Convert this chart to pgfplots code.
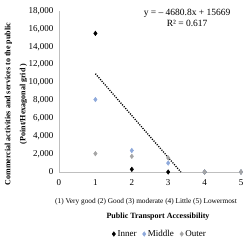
\documentclass[border=0pt]{standalone}
\usepackage{pgfplots}
\pgfplotsset{compat=1.18}
\usepackage{fontspec}
\setmainfont{Liberation Serif}
\definecolor{midblue}{HTML}{8EA9DB}
\definecolor{outgray}{HTML}{A5A5A5}
\definecolor{axgray}{HTML}{BFBFBF}
\begin{document}
\begin{tikzpicture}
\useasboundingbox (-59pt,-68pt) rectangle (189pt,172pt);
\begin{axis}[
  scale only axis, width=182pt, height=161pt,
  xmin=0, xmax=5, ymin=0, ymax=18000,
  xtick={0,1,2,3,4,5}, ytick distance=2000,
  axis x line*=bottom, axis y line*=left,
  axis line style={axgray, line width=0.8pt, -},
  major tick length=0pt,
  tick label style={font=\fontsize{9}{10}\selectfont, text=black},
  xticklabel={\pgfmathprintnumber[assume math mode=true]{\tick}},
  yticklabel={\pgfmathprintnumber[assume math mode=true, 1000 sep={,}]{\tick}},
  scaled y ticks=false,
  xticklabel style={yshift=-4pt},
  yticklabel style={xshift=-2pt},
  clip=false,
  legend columns=3,
  legend style={at={(rel axis cs:0.555,-0.385)}, anchor=center, draw=none, fill=none,
    font=\fontsize{9}{10}\selectfont, /tikz/every even column/.append style={column sep=4pt}},
  legend image code/.code={\draw[#1] plot coordinates {(0.15cm,0cm)};},
]
\addplot[only marks, mark=diamond*, mark size=2.3pt, black, mark options={fill=black}] coordinates {(1,15500) (2,300) (3,0) (4,0) (5,0)};
\addlegendentry{Inner}
\addplot[only marks, mark=diamond*, mark size=2.3pt, midblue, mark options={fill=midblue}] coordinates {(1,8100) (2,2400) (3,1000) (4,0) (5,0)};
\addlegendentry{Middle}
\addplot[only marks, mark=diamond*, mark size=2.3pt, outgray, mark options={fill=outgray}] coordinates {(1,2050) (2,1750) (3,1570) (4,0) (5,0)};
\addlegendentry{Outer}
\addplot[black, line width=1.3pt, dash pattern=on 1.1pt off 1.3pt, forget plot] coordinates {(1,10988.2) (3.3475,0)};
\node[align=center, font=\fontsize{9.5}{11}\selectfont] at (rel axis cs:0.704,0.96) {y = – 4680.8x + 15669\\R² = 0.617};
\end{axis}
\node[rotate=90, align=center, font=\bfseries\fontsize{8}{15}\selectfont] at (-43pt,68pt) {Commercial activities and services to the public\\(Point/Hexagonal grid )};
\node[font=\fontsize{7.3}{8}\selectfont] at (87pt,-30pt) {(1) Very good (2) Good (3) moderate (4) Little (5) Lowermost};
\node[font=\bfseries\fontsize{8}{9}\selectfont] at (99pt,-45pt) {Public Transport Accessibility};
\end{tikzpicture}
\end{document}
